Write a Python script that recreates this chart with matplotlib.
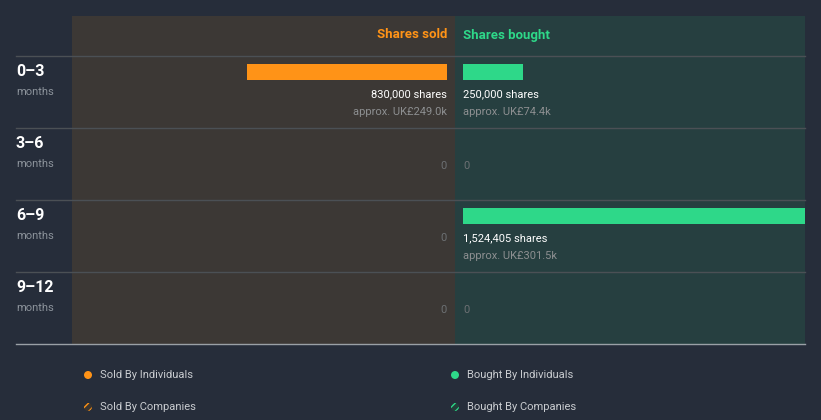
import matplotlib
matplotlib.use("Agg")
import matplotlib.pyplot as plt
from matplotlib.lines import Line2D
from matplotlib.patches import Ellipse

plt.rcParams["font.family"] = ["Roboto", "DejaVu Sans"]

# ---- data ----
periods = ["0\u20133", "3\u20136", "6\u20139", "9\u201312"]
sold_shares = [830000, 0, 0, 0]
sold_value = ["UK\u00a3249.0k", None, None, None]
bought_shares = [250000, 0, 1524405, 0]
bought_value = ["UK\u00a374.4k", None, "UK\u00a3301.5k", None]

BG = "#262d3a"
SOLD_BG = "#3c3835"
BOUGHT_BG = "#263f40"
ORANGE = "#ff9317"
GREEN = "#2ed889"
W, H = 821, 420

fig = plt.figure(figsize=(W / 100, H / 100), dpi=100, facecolor=BG)


def fx(px):
    return px / W


def fy(py):
    return (H - py) / H


pps = 200 / 830000          # pixels per share
top, bottom = 16, 344
ax_s = fig.add_axes([fx(72), fy(bottom), fx(455 - 72), (bottom - top) / H])
ax_b = fig.add_axes([fx(455), fy(bottom), fx(805 - 455), (bottom - top) / H])
ax_s.set_facecolor(SOLD_BG)
ax_b.set_facecolor(BOUGHT_BG)
ax_s.set_xlim(375 / pps, -8 / pps)
ax_b.set_xlim(-8 / pps, 342 / pps)
for ax in (ax_s, ax_b):
    ax.set_ylim(4, -40 / 72)
    ax.set_xticks([])
    ax.set_yticks([])
    for sp in ax.spines.values():
        sp.set_visible(False)

rows = range(len(periods))
ax_s.barh([i + 16 / 72 for i in rows], sold_shares, height=16 / 72,
          color=ORANGE, align="center")
ax_b.barh([i + 16 / 72 for i in rows], bought_shares, height=16 / 72,
          color=GREEN, align="center")

ax_s.text(0, -21 / 72, "Shares sold", color=ORANGE, fontsize=9.5,
          fontweight="bold", ha="right", va="center")
ax_b.text(0, -21 / 72, "Shares bought", color=GREEN, fontsize=9.5,
          fontweight="bold", ha="left", va="center")

for ax, shares, vals, ha in ((ax_s, sold_shares, sold_value, "right"),
                             (ax_b, bought_shares, bought_value, "left")):
    for i in rows:
        if shares[i]:
            ax.text(0, i + 38 / 72, f"{shares[i]:,} shares", color="white",
                    fontsize=8, ha=ha, va="center")
            ax.text(0, i + 56 / 72, f"approx. {vals[i]}", color="#8d8f91",
                    fontsize=8, ha=ha, va="center")
        else:
            ax.text(0, i + 38 / 72, "0", color="#6c7073", fontsize=8,
                    ha=ha, va="center")

# row labels
for i, p in enumerate(periods):
    y0 = 56 + 72 * i
    fig.text(fx(16), fy(y0 + 15), p, color="white", fontsize=11.5,
             fontweight="bold", ha="left", va="center")
    fig.text(fx(16), fy(y0 + 36), "months", color="#8c939b", fontsize=8,
             ha="left", va="center")

# separators
for y in (56, 128, 200, 272):
    fig.add_artist(Line2D([fx(16), fx(805)], [fy(y), fy(y)], color="#4b5055", lw=1))
fig.add_artist(Line2D([fx(16), fx(805)], [fy(344), fy(344)], color="#9aa0a6", lw=1))

# legend
legend_items = [
    (88, 375, ORANGE, False, "Sold By Individuals"),
    (88, 407, ORANGE, True, "Sold By Companies"),
    (455, 375, GREEN, False, "Bought By Individuals"),
    (455, 407, GREEN, True, "Bought By Companies"),
]
for x, y, c, hatched, label in legend_items:
    if hatched:
        fig.add_artist(Ellipse((fx(x), fy(y)), fx(8), 8 / H,
                               facecolor="#3a3530" if c == ORANGE else "#22403a",
                               edgecolor=c, hatch="////", lw=0,
                               transform=fig.transFigure))
    else:
        fig.add_artist(Ellipse((fx(x), fy(y)), fx(8), 8 / H,
                               facecolor=c, edgecolor="none",
                               transform=fig.transFigure))
    fig.text(fx(x + 12), fy(y), label, color="#c9ccd0", fontsize=8,
             ha="left", va="center")

fig.savefig("out.png", dpi=100, facecolor=BG)
